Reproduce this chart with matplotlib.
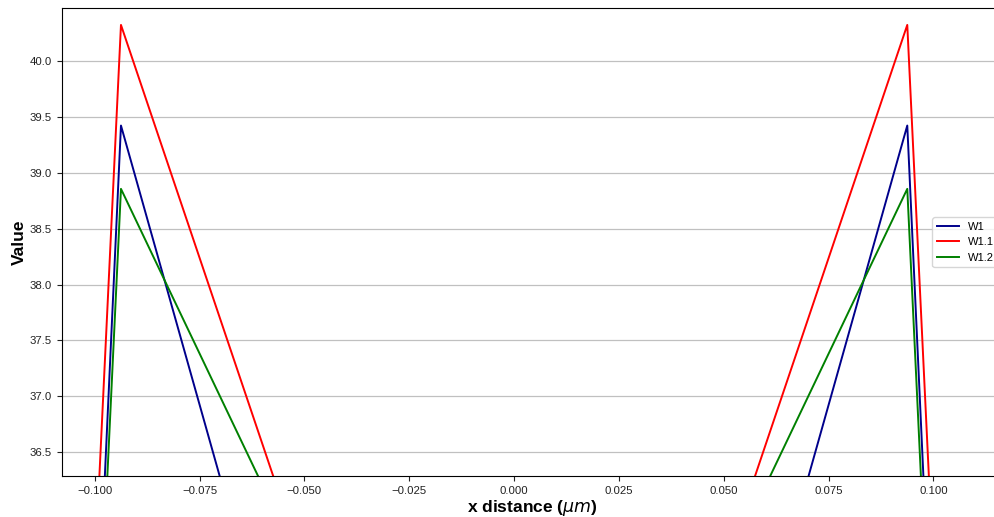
import numpy as np
import matplotlib
matplotlib.use("Agg")
import matplotlib.pyplot as plt

plt.rcParams['font.family'] = ['Liberation Sans', 'DejaVu Sans']

# sample positions (um) and profile values
x_pos = [-0.1, -0.09375, -0.03125, 0.03125, 0.09375, 0.1]
w1 = [34.32, 39.424, 31.09, 31.09, 39.424, 34.32]
w1_1 = [35.42, 40.325, 33.37, 33.37, 40.325, 35.42]
w1_2 = [33.91, 38.857, 33.94, 33.94, 38.857, 33.91]

x_ticks = [-0.100, -0.075, -0.050, -0.025, 0.000, 0.025, 0.050, 0.075, 0.100]
y_ticks = [36.5, 37.0, 37.5, 38.0, 38.5, 39.0, 39.5, 40.0]

fig = plt.figure(figsize=(9.94, 5.17), dpi=100)
# axes deliberately runs past the right edge (original picture is cropped there)
ax = fig.add_axes([0.062, 0.0787, 0.948, 0.9053])

ax.plot(x_pos, w1, color='darkblue', lw=1.4, label='W1')
ax.plot(x_pos, w1_1, color='red', lw=1.4, label='W1.1')
ax.plot(x_pos, w1_2, color='green', lw=1.4, label='W1.2')

ax.set_xlim(-0.1079, 0.1168)
ax.set_ylim(36.283, 40.474)
ax.set_xticks(x_ticks)
ax.set_yticks(y_ticks)
ax.tick_params(labelsize=8.2, colors='#222222')
ax.grid(axis='y', color='#c0c0c0', lw=0.9)
ax.set_axisbelow(True)

ax.set_xlabel(r'x distance ($\mu m$)', fontsize=12.5, fontweight='bold', labelpad=1.5)
ax.set_ylabel('Value', fontsize=12.5, fontweight='bold', labelpad=2)
ax.legend(loc='center right', fontsize=8)

fig.savefig('out.png', dpi=100)
